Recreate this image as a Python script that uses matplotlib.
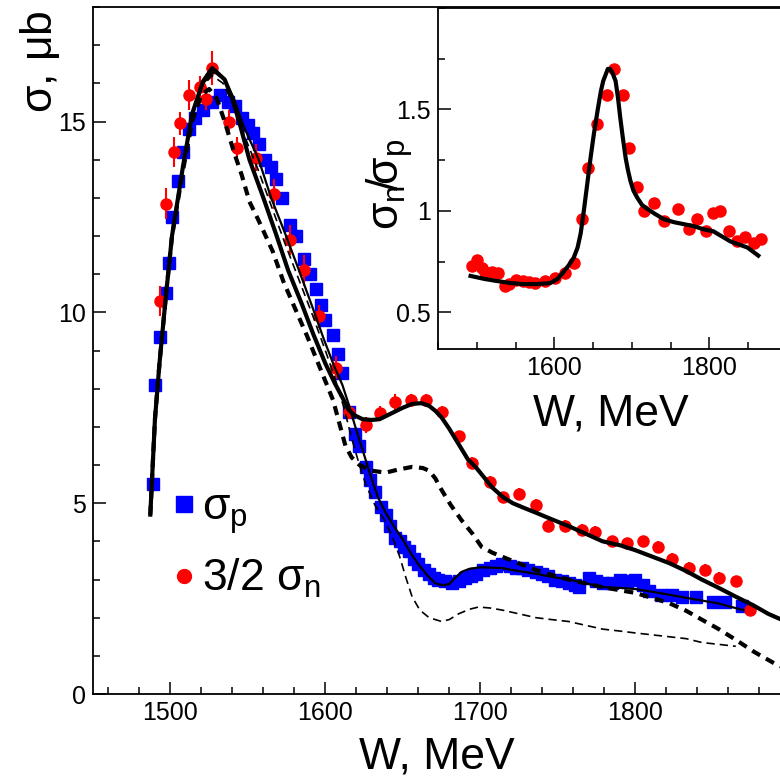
import numpy as np
import matplotlib
matplotlib.use("Agg")
import matplotlib.pyplot as plt
from matplotlib.lines import Line2D
from matplotlib.ticker import MultipleLocator, FixedLocator, FuncFormatter

plt.rcParams['font.family'] = ['Liberation Sans', 'DejaVu Sans']
plt.rcParams['mathtext.fontset'] = 'custom'
plt.rcParams['mathtext.rm'] = 'Liberation Sans'
plt.rcParams['mathtext.it'] = 'Liberation Sans'
plt.rcParams['mathtext.bf'] = 'Liberation Sans:bold'

# --- sigma_p data (blue squares)
W_p = [1489, 1490, 1493, 1497, 1499, 1501, 1505, 1508, 1512, 1516, 1521, 1527, 1532, 1537,
       1542, 1546, 1550, 1553, 1557, 1561, 1565, 1568, 1572, 1577, 1581, 1586, 1590, 1594,
       1597, 1600, 1605, 1608, 1611, 1615, 1619, 1622, 1626, 1629, 1632, 1636, 1639, 1642,
       1645, 1648, 1651, 1654, 1657, 1660, 1664, 1667, 1670, 1673, 1677, 1682, 1686, 1690,
       1694, 1697, 1702, 1706, 1710, 1714, 1719, 1723, 1727, 1731, 1736, 1740, 1744, 1748,
       1753, 1757, 1761, 1764, 1770, 1775, 1779, 1785, 1790, 1795, 1800, 1805, 1809, 1817,
       1824, 1830, 1839, 1850, 1858, 1869]
sig_p = [5.5, 8.1, 9.35, 10.5, 11.3, 12.5, 13.45, 14.2, 14.8, 15.1, 15.3, 15.5, 15.7, 15.5,
         15.4, 15.1, 14.9, 14.7, 14.4, 14.0, 13.8, 13.5, 13.0, 12.3, 12.0, 11.4, 11.0, 10.6,
         10.2, 9.8, 9.4, 8.9, 8.4, 7.4, 6.8, 6.5, 5.95, 5.6, 5.3, 4.9, 4.7, 4.4,
         4.1, 4.0, 3.85, 3.75, 3.55, 3.4, 3.25, 3.15, 3.05, 3.0, 2.95, 2.9, 2.95, 3.05,
         3.1, 3.15, 3.25, 3.3, 3.35, 3.4, 3.35, 3.3, 3.3, 3.25, 3.2, 3.15, 3.1, 3.0,
         2.95, 2.9, 2.85, 2.8, 3.05, 2.95, 2.9, 2.9, 3.0, 2.95, 3.0, 2.85, 2.7, 2.6,
         2.6, 2.55, 2.55, 2.4, 2.4, 2.3]

# --- 3/2 sigma_n data (red circles)
W_n = [1493, 1497, 1502, 1506, 1512, 1519, 1523, 1527, 1538, 1543, 1555, 1567, 1577, 1586,
       1596, 1607, 1615, 1626, 1635, 1645, 1655, 1665, 1675, 1686, 1695, 1706, 1715, 1725,
       1736, 1744, 1755, 1766, 1774, 1785, 1795, 1805, 1815, 1824, 1835, 1845, 1854, 1865, 1874]
sig_n = [10.3, 12.85, 14.2, 14.95, 15.7, 15.9, 15.6, 16.4, 15.0, 14.3, 14.05, 13.1, 11.9, 11.1,
         9.9, 8.55, 7.4, 7.05, 7.35, 7.65, 7.7, 7.7, 7.4, 6.75, 6.05, 5.55, 5.15, 5.25,
         4.95, 4.4, 4.4, 4.3, 4.25, 4.0, 3.95, 4.0, 3.85, 3.55, 3.3, 3.25, 3.05, 2.95, 2.2]
err_n = [0.4, 0.4, 0.4, 0.3, 0.4, 0.3, 0.3, 0.45, 0.3, 0.3, 0.35, 0.4, 0.4, 0.4,
         0.3, 0.3, 0.2, 0.2, 0.2, 0.2, 0.15, 0.15, 0.15, 0.15, 0.15, 0.15, 0.15, 0.15,
         0.15, 0.15, 0.15, 0.15, 0.15, 0.15, 0.15, 0.15, 0.15, 0.15, 0.15, 0.15, 0.15, 0.15, 0.15]

# --- fit curves
W_fn = [1487, 1490, 1493, 1497, 1501, 1508, 1514, 1521, 1527, 1535, 1540, 1545, 1551, 1560,
        1568, 1576, 1585, 1592, 1600, 1606, 1611, 1615, 1619, 1624, 1630, 1635, 1640, 1645,
        1650, 1656, 1662, 1667, 1671, 1675, 1680, 1686, 1692, 1697, 1703, 1708, 1715, 1721,
        1728, 1736, 1746, 1757, 1768, 1779, 1790, 1800, 1811, 1822, 1833, 1843, 1854, 1865,
        1876, 1886, 1900]
fit_n = [4.7, 7.2, 8.7, 10.4, 12.0, 13.8, 15.2, 16.05, 16.4, 16.1, 15.6, 14.9, 14.0, 13.0,
         12.07, 11.1, 10.2, 9.45, 8.66, 8.15, 7.77, 7.45, 7.3, 7.2, 7.18, 7.2, 7.3, 7.4,
         7.5, 7.6, 7.62, 7.55, 7.42, 7.25, 6.95, 6.55, 6.15, 5.95, 5.65, 5.4, 5.15, 5.0,
         4.88, 4.75, 4.58, 4.4, 4.2, 4.0, 3.9, 3.77, 3.6, 3.43, 3.22, 3.0, 2.78, 2.55,
         2.33, 2.1, 1.85]

W_fp = [1487, 1490, 1493, 1497, 1501, 1508, 1514, 1521, 1528, 1535, 1541, 1547, 1557, 1565,
        1574, 1583, 1592, 1599, 1606, 1611, 1615, 1619, 1624, 1629, 1634, 1639, 1645, 1650,
        1655, 1660, 1666, 1671, 1676, 1680, 1684, 1688, 1693, 1700, 1714, 1725, 1736, 1746,
        1757, 1768, 1779, 1790, 1800, 1811, 1822, 1833, 1843, 1854, 1865, 1870]
fit_p = [4.7, 7.2, 8.7, 10.4, 12.0, 13.8, 15.2, 16.0, 16.3, 16.1, 15.6, 14.9, 14.0, 13.0,
         12.07, 11.1, 10.1, 9.3, 8.56, 8.1, 7.6, 7.05, 6.4, 5.75, 5.15, 4.75, 4.35, 4.05,
         3.7, 3.4, 3.1, 2.9, 2.85, 2.88, 3.05, 3.2, 3.28, 3.32, 3.3, 3.22, 3.15, 3.07,
         3.0, 2.9, 2.8, 2.78, 2.75, 2.68, 2.6, 2.52, 2.45, 2.37, 2.25, 2.2]

W_dn = [1487, 1490, 1493, 1497, 1501, 1508, 1514, 1520, 1525, 1530, 1535, 1541, 1546, 1551,
        1557, 1566, 1573, 1581, 1588, 1594, 1600, 1605, 1609, 1613, 1617, 1622, 1630, 1639,
        1647, 1656, 1663, 1667, 1671, 1675, 1681, 1688, 1695, 1701, 1708, 1714, 1725, 1736,
        1746, 1757, 1768, 1779, 1790, 1800, 1811, 1822, 1833, 1843, 1854, 1865, 1877, 1890, 1900]
dash_n = [4.7, 7.2, 8.7, 10.4, 12.0, 13.7, 15.0, 15.7, 15.85, 15.6, 15.0, 14.2, 13.6, 12.9,
          12.4, 11.6, 10.8, 10.05, 9.4, 8.8, 8.2, 7.7, 7.1, 6.5, 6.2, 6.0, 5.85, 5.8,
          5.88, 5.95, 5.92, 5.85, 5.65, 5.35, 4.95, 4.55, 4.2, 3.85, 3.7, 3.6, 3.42, 3.25,
          3.12, 3.0, 2.9, 2.8, 2.72, 2.65, 2.52, 2.38, 2.18, 1.95, 1.7, 1.42, 1.1, 0.8, 0.62]

W_dp = [1487, 1490, 1493, 1497, 1501, 1508, 1514, 1521, 1527, 1534, 1541, 1548, 1556, 1565,
        1574, 1583, 1592, 1600, 1606, 1612, 1617, 1622, 1626, 1632, 1639, 1644, 1648, 1652,
        1656, 1661, 1667, 1675, 1680, 1686, 1693, 1699, 1707, 1714, 1725, 1736, 1746, 1757,
        1768, 1779, 1790, 1800, 1811, 1822, 1833, 1843, 1854, 1865]
dash_p = [4.7, 7.2, 8.7, 10.4, 12.0, 13.8, 15.1, 15.95, 16.2, 16.0, 15.4, 14.6, 13.8, 12.8,
          11.8, 10.85, 9.9, 9.0, 8.3, 7.5, 6.7, 6.0, 5.5, 4.95, 4.5, 4.05, 3.6, 3.05,
          2.55, 2.2, 2.0, 1.9, 1.95, 2.1, 2.22, 2.28, 2.25, 2.2, 2.1, 2.0, 1.95, 1.9,
          1.8, 1.7, 1.65, 1.6, 1.55, 1.5, 1.45, 1.35, 1.3, 1.25]

# --- inset: sigma_n / sigma_p
W_r = [1494, 1500, 1507, 1511, 1519, 1528, 1537, 1541, 1550, 1559, 1567, 1575, 1588, 1601,
       1614, 1625, 1636, 1643, 1655, 1668, 1677, 1688, 1696, 1707, 1715, 1728, 1741, 1759,
       1773, 1784, 1795, 1805, 1814, 1825, 1836, 1846, 1857, 1866]
ratio = [0.73, 0.76, 0.72, 0.70, 0.70, 0.695, 0.63, 0.64, 0.66, 0.655, 0.65, 0.645, 0.655, 0.67,
         0.695, 0.745, 0.96, 1.21, 1.43, 1.57, 1.70, 1.57, 1.31, 1.12, 1.0, 1.04, 0.95, 1.01,
         0.91, 0.96, 0.90, 0.99, 1.0, 0.90, 0.85, 0.87, 0.84, 0.86]
W_rf = [1492, 1510, 1526, 1543, 1560, 1578, 1595, 1604, 1612, 1619, 1625, 1630, 1634, 1638,
        1643, 1647, 1651, 1656, 1660, 1663, 1666, 1669, 1672, 1675, 1679, 1682, 1685, 1688,
        1692, 1695, 1698, 1702, 1707, 1713, 1720, 1730, 1741, 1754, 1767, 1780, 1792, 1805,
        1816, 1827, 1838, 1849, 1863]
ratio_fit = [0.68, 0.665, 0.655, 0.645, 0.64, 0.64, 0.645, 0.665, 0.70, 0.735, 0.77, 0.82, 0.89, 1.0,
             1.15, 1.27, 1.38, 1.50, 1.59, 1.64, 1.67, 1.70, 1.70, 1.68, 1.64, 1.56, 1.46, 1.37,
             1.26, 1.20, 1.15, 1.10, 1.065, 1.03, 1.01, 0.985, 0.96, 0.945, 0.935, 0.925, 0.91, 0.90,
             0.875, 0.85, 0.835, 0.82, 0.78]

main_xticks = [1500, 1600, 1700, 1800]
main_yticks = [0, 5, 10, 15]
inset_xticks = [1600, 1800]
inset_yticks = [0.5, 1.0, 1.5]

BLUE = '#0000ff'
RED = '#ff0000'


def style_axes(a):
    a.tick_params(which='both', direction='in', width=1.1, labelsize=18, pad=5,
                  top=False, right=False)
    a.tick_params(which='major', length=9)
    a.tick_params(which='minor', length=5)
    for s in a.spines.values():
        s.set_linewidth(1.3)


fig = plt.figure(figsize=(7.8, 7.81), dpi=100)
ax = fig.add_axes([93 / 780, 1 - 694 / 781, (790 - 93) / 780, (694 - 7) / 781])

ax.plot(W_p, sig_p, 's', color=BLUE, ms=8, mec=BLUE, zorder=2)
ax.errorbar(W_n, sig_n, yerr=err_n, fmt='o', color=RED, ms=8, elinewidth=1.5,
            capsize=0, zorder=2)
ax.plot(W_dp, dash_p, '--', color='black', lw=1.2, dashes=(5, 3), zorder=3)
ax.plot(W_dn, dash_n, '--', color='black', lw=3, dashes=(2.2, 1.6), zorder=3)
ax.plot(W_fp, fit_p, '-', color='black', lw=1.6, zorder=4)
ax.plot(W_fn, fit_n, '-', color='black', lw=3, zorder=4)

ax.set_xlim(1450, 1900)
ax.set_ylim(0, 18)
ax.xaxis.set_major_locator(FixedLocator(main_xticks))
ax.xaxis.set_minor_locator(MultipleLocator(20))
ax.yaxis.set_major_locator(FixedLocator(main_yticks))
ax.yaxis.set_minor_locator(MultipleLocator(1))
style_axes(ax)

handles = [Line2D([], [], ls='none', marker='s', ms=12, color=BLUE),
           Line2D([], [], ls='none', marker='o', ms=10, color=RED)]
ax.legend(handles, [r'$\sigma_p$', r'3/2 $\sigma_n$'], loc='upper left',
          bbox_to_anchor=(173 / 780, 1 - 488 / 781), bbox_transform=fig.transFigure,
          frameon=False, fontsize=32, handlelength=0.5, handletextpad=0.15,
          labelspacing=0.47, borderpad=0, borderaxespad=0, numpoints=1)

fig.text(437 / 780, 1 - 768 / 781, 'W, MeV', fontsize=32, ha='center', va='baseline')
fig.text(40 / 780, 1 - 10 / 781, r'$\sigma$, $\mu$b', fontsize=32, rotation=90,
         ha='center', va='top')

# inset
axi = fig.add_axes([438 / 780, 1 - 349 / 781, (787 - 438) / 780, (349 - 8) / 781])
axi.set_facecolor('white')
axi.errorbar(W_r, ratio, yerr=0.02, fmt='o', color=RED, ms=8, elinewidth=1.5,
             capsize=0, zorder=2)
axi.plot(W_rf, ratio_fit, '-', color='black', lw=3, zorder=3)
axi.set_xlim(1450, 1900)
axi.set_ylim(0.32, 2.0)
axi.xaxis.set_major_locator(FixedLocator(inset_xticks))
axi.xaxis.set_minor_locator(MultipleLocator(50))
axi.yaxis.set_major_locator(FixedLocator(inset_yticks))
axi.yaxis.set_minor_locator(MultipleLocator(0.25))
axi.yaxis.set_major_formatter(FuncFormatter(lambda v, p: '{:g}'.format(v)))
style_axes(axi)

fig.text(611 / 780, 1 - 425 / 781, 'W, MeV', fontsize=32, ha='center', va='baseline')
fig.text(390 / 780, 1 - 184 / 781, r'$\sigma_n\!/\!\sigma_p$', fontsize=32, rotation=90,
         ha='center', va='center')

fig.savefig('out.png', dpi=100)
